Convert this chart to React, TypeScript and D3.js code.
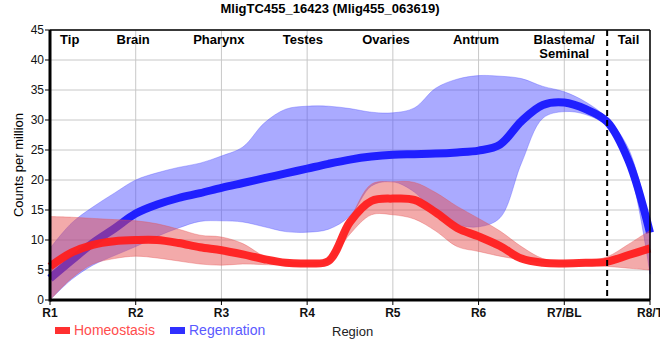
import React from 'react';
import * as d3 from 'd3';

// positions along the body (R1..R8), sampled every quarter region
const pos = [1, 1.25, 1.5, 1.75, 2, 2.25, 2.5, 2.75, 3, 3.25, 3.5, 3.75, 4, 4.25, 4.5, 4.75, 5, 5.25, 5.5, 5.75, 6, 6.25, 6.5, 6.75, 7, 7.25, 7.5, 7.75, 8];

// Regeneration: mean and band
const regMean = [3.6, 6.6, 9.5, 11.9, 14.4, 15.9, 17.0, 17.8, 18.7, 19.5, 20.3, 21.1, 21.9, 22.7, 23.4, 23.9, 24.2, 24.3, 24.4, 24.6, 24.9, 25.9, 29.8, 32.5, 32.9, 31.8, 29.7, 23.2, 11.2];
const regHigh = [8.6, 12.8, 15.5, 17.8, 20.0, 21.2, 22.1, 22.8, 24.0, 25.5, 29.5, 31.8, 32.3, 32.3, 31.9, 31.3, 31.2, 32.0, 35.3, 36.8, 37.4, 37.3, 36.9, 35.6, 34.7, 33.0, 30.3, 25.2, 12.5];
const regLow = [0, 3.4, 5.8, 7.4, 8.9, 10.6, 12.0, 13.1, 13.2, 13.0, 12.2, 11.4, 11.3, 11.8, 14.0, 19.0, 19.7, 18.0, 14.5, 12.6, 12.2, 13.7, 22.8, 30.3, 31.4, 30.9, 28.9, 22.3, 4.3];

// Homeostasis: mean and band
const homMean = [5.6, 7.9, 9.2, 9.8, 10.0, 10.0, 9.5, 8.8, 8.3, 7.6, 6.8, 6.2, 6.1, 6.5, 13.0, 16.5, 16.9, 16.7, 14.6, 12.0, 10.6, 9.0, 6.9, 6.2, 6.1, 6.2, 6.4, 7.5, 8.6];
const homHigh = [13.9, 13.8, 13.6, 13.4, 13.2, 12.7, 11.8, 10.8, 10.5, 9.4, 7.3, 6.5, 6.2, 7.0, 13.5, 19.3, 19.7, 19.6, 17.9, 15.6, 13.6, 11.5, 8.9, 6.9, 6.4, 6.5, 7.2, 9.3, 11.6];
const homLow = [0, 3.6, 6.0, 6.9, 7.3, 7.0, 6.5, 6.0, 5.8, 6.0, 5.9, 5.8, 5.7, 6.3, 11.0, 14.2, 14.2, 13.5, 11.5, 8.9, 8.1, 7.3, 6.7, 6.2, 5.8, 5.7, 5.6, 5.3, 5.0];

const xTicks = ['R1', 'R2', 'R3', 'R4', 'R5', 'R6', 'R7/BL', 'R8/T'];
const yTicks = [0, 5, 10, 15, 20, 25, 30, 35, 40, 45];

const regions = ['Tip', 'Brain', 'Pharynx', 'Testes', 'Ovaries', 'Antrum', 'Blastema/\nSeminal', 'Tail'];
const regionPos = [1.23, 1.97, 2.97, 3.95, 4.92, 5.97, 7.0, 7.75];
const tailBoundary = 7.5;

const W = 660;
const H = 360;
const margin = { top: 30, right: 10, bottom: 60, left: 50 };

export default function App() {
  const x = d3.scaleLinear().domain([1, 8]).range([margin.left, W - margin.right]);
  const y = d3.scaleLinear().domain([0, 45]).range([H - margin.bottom, margin.top]);

  const band = (lo: number[], hi: number[]) =>
    d3.area<number>()
      .x((_, i) => x(pos[i]))
      .y0((_, i) => y(lo[i]))
      .y1((_, i) => y(hi[i]))
      .curve(d3.curveCatmullRom.alpha(0.5))(pos) || '';

  const mean = (vals: number[]) =>
    d3.line<number>()
      .x((_, i) => x(pos[i]))
      .y((_, i) => y(vals[i]))
      .curve(d3.curveCatmullRom.alpha(0.5))(pos) || '';

  const font = 'Arial, "Liberation Sans", sans-serif';

  return (
    <svg width={W} height={H} style={{ position: 'absolute', left: 0, top: 0, fontFamily: font }}>
      <rect width={W} height={H} fill="#fff" />
      <text x={W / 2} y={13} textAnchor="middle" fontWeight="bold" fontSize={13}>
        MligTC455_16423 (Mlig455_063619)
      </text>

      {/* grid */}
      {yTicks.slice(1).map(t => (
        <line key={'h' + t} x1={x(1)} x2={x(8)} y1={y(t)} y2={y(t)} stroke="#c8c8c8" strokeWidth={1} />
      ))}
      {xTicks.map((_, i) => (
        <line key={'v' + i} x1={x(i + 1)} x2={x(i + 1)} y1={y(0)} y2={y(45)} stroke="#c8c8c8" strokeWidth={1} />
      ))}

      {/* regeneration */}
      <path d={band(regLow, regHigh)} fill="#4d4dff" fillOpacity={0.48} stroke="#4d4dff" strokeOpacity={0.35} strokeWidth={1} />
      <path d={mean(regMean)} fill="none" stroke="#1f1fff" strokeWidth={8} />

      {/* homeostasis */}
      <path d={band(homLow, homHigh)} fill="#e64d4d" fillOpacity={0.48} stroke="#e64d4d" strokeOpacity={0.35} strokeWidth={1} />
      <path d={mean(homMean)} fill="none" stroke="#ff1f1f" strokeOpacity={0.95} strokeWidth={8} />

      {/* frame */}
      <line x1={x(1)} x2={x(8)} y1={y(45)} y2={y(45)} stroke="#000" strokeWidth={1.5} />
      <line x1={x(8)} x2={x(8)} y1={y(45)} y2={y(0)} stroke="#000" strokeWidth={1.5} />
      <line x1={x(tailBoundary)} x2={x(tailBoundary)} y1={y(45)} y2={y(0)} stroke="#000" strokeWidth={2} strokeDasharray="6,4" />
      <line x1={x(1)} x2={x(8)} y1={y(0)} y2={y(0)} stroke="#000" strokeWidth={3} />
      <line x1={x(1)} x2={x(1)} y1={y(45)} y2={y(0) + 1.5} stroke="#000" strokeWidth={3} />

      {/* y axis */}
      {yTicks.map(t => (
        <g key={'y' + t}>
          <line x1={x(1) - 5} x2={x(1)} y1={y(t)} y2={y(t)} stroke="#000" strokeWidth={1} />
          <text x={x(1) - 6} y={y(t) + 4} textAnchor="end" fontSize={12} fill="#111">{t}</text>
        </g>
      ))}
      <text transform={`translate(23,${(y(0) + y(45)) / 2}) rotate(-90)`} textAnchor="middle" fontSize={13}>
        Counts per million
      </text>

      {/* x axis */}
      {xTicks.map((t, i) => (
        <g key={'x' + t}>
          <line x1={x(i + 1)} x2={x(i + 1)} y1={y(0)} y2={y(0) + 5} stroke="#000" strokeWidth={1} />
          <text x={x(i + 1)} y={y(0) + 17} textAnchor="middle" fontSize={12} fontWeight="bold" fill="#111">{t}</text>
        </g>
      ))}
      <text x={332} y={336} fontSize={13} fill="#222">Region</text>

      {/* region names */}
      {regions.map((r, i) => (
        <text key={r} x={x(regionPos[i])} y={y(45) + 14} textAnchor="middle" fontSize={13} fontWeight="bold">
          {r.split('\n').map((s, j) => (
            <tspan key={j} x={x(regionPos[i])} dy={j === 0 ? 0 : 14}>{s}</tspan>
          ))}
        </text>
      ))}

      {/* legend */}
      <rect x={55} y={327} width={15} height={7} fill="#ff3030" />
      <text x={74} y={335} fontSize={14} fill="#ff4d4d">Homeostasis</text>
      <rect x={170} y={327} width={15} height={7} fill="#3030ff" />
      <text x={189} y={335} fontSize={14} fill="#5a5aff">Regenration</text>
    </svg>
  );
}
